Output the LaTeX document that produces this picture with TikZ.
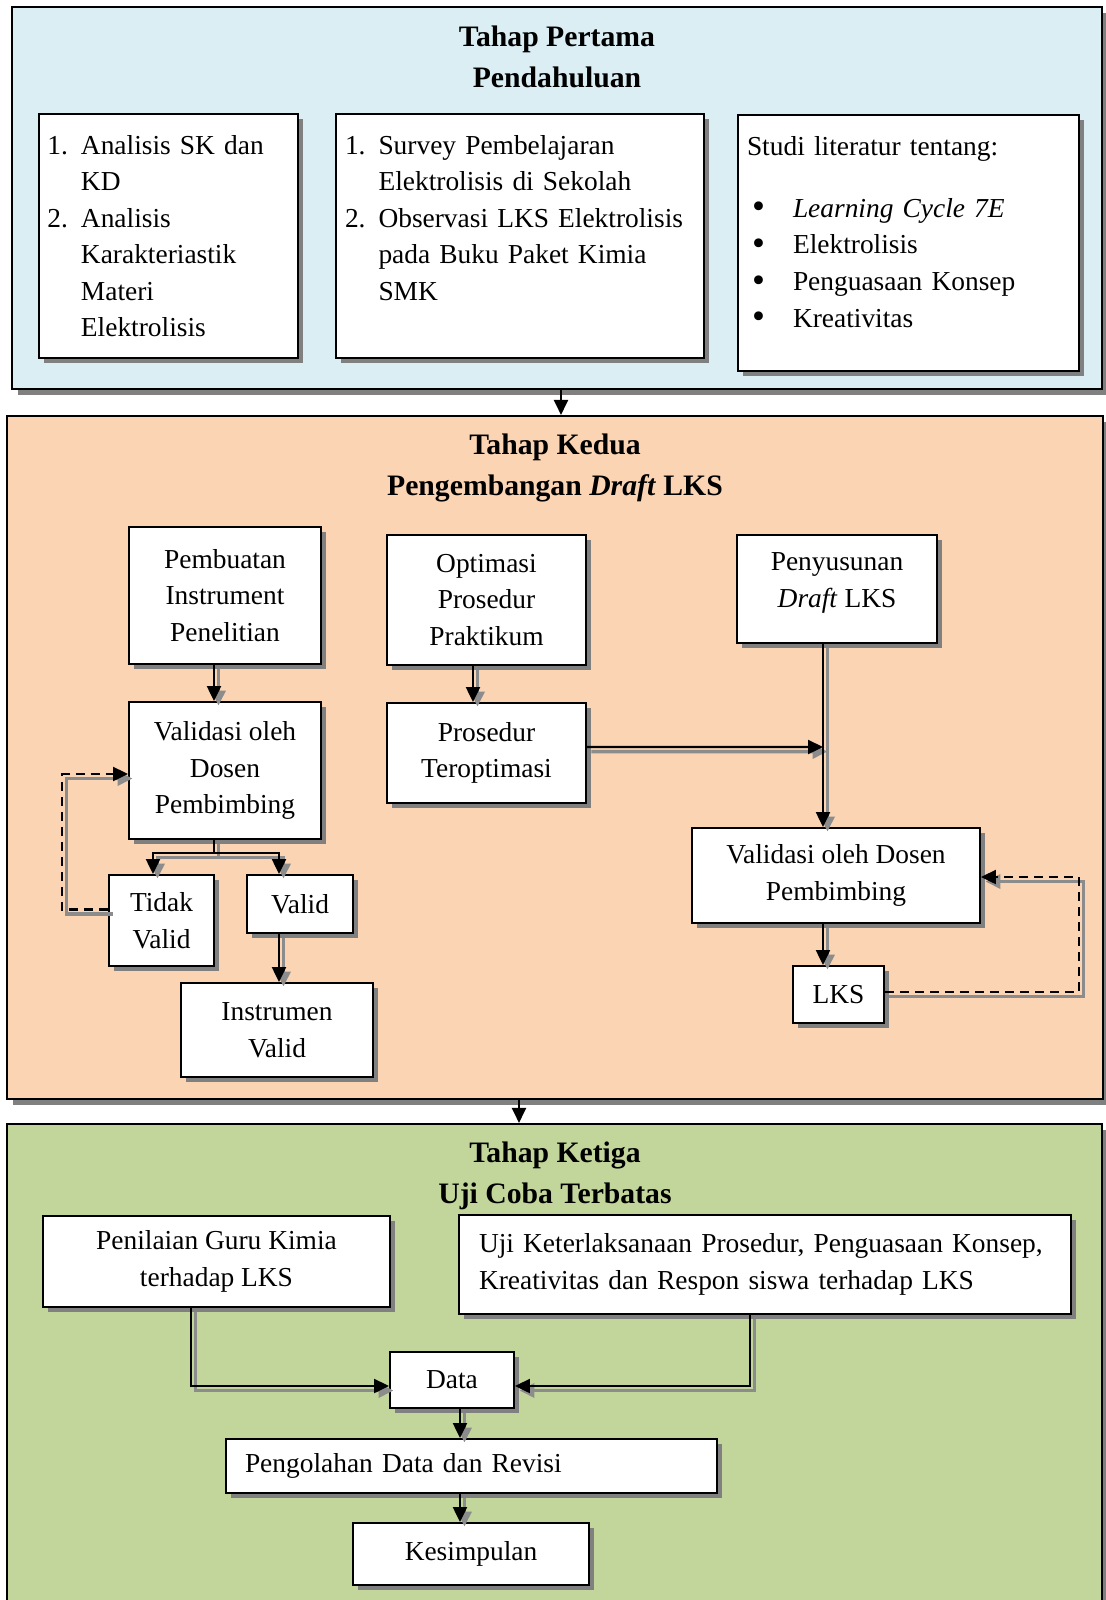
\documentclass[tikz,border=0pt]{standalone}
\usepackage{fontspec}
\setmainfont{Liberation Serif}
\usetikzlibrary{arrows.meta, positioning, calc, shadows}

\definecolor{stageblue}{HTML}{DAEEF3}
\definecolor{stageorange}{HTML}{FBD4B4}
\definecolor{stagegreen}{HTML}{C2D69B}

\newcommand{\lsnum}[1]{\makebox[0.67cm][l]{#1}}
\newcommand{\lsbul}{\hspace*{0.1cm}\makebox[0.82cm][l]{\fontsize{21pt}{20pt}\selectfont\raisebox{-0.04em}{\textbullet}}}

\begin{document}
\begin{tikzpicture}[
    font=\fontsize{15.6pt}{20.8pt}\selectfont,
    >={Triangle[length=0.3cm, width=0.28cm]},
    stage/.style={
        draw=black, line width=1.2pt, inner sep=0pt,
        drop shadow={shadow xshift=0.12cm, shadow yshift=-0.12cm, fill=black!50, opacity=1}
    },
    stagetitle/.style={
        align=center, font=\fontsize{16.9pt}{23.2pt}\selectfont\bfseries
    },
    procbox/.style={
        draw=black, fill=white, line width=1.1pt, align=center, inner sep=0pt,
        drop shadow={shadow xshift=0.1cm, shadow yshift=-0.1cm, fill=black!50, opacity=1}
    },
    listbox/.style={
        procbox, align=left
    },
    flow/.style={
        ->, line width=1.3pt,
        preaction={draw=black!45, line width=2pt, transform canvas={xshift=0.09cm, yshift=-0.09cm}}
    },
    loopback/.style={
        flow, dash pattern=on 0.18cm off 0.12cm
    },
    link/.style={
        ->, line width=1.2pt
    }
]
    \useasboundingbox (0,0) rectangle (22.12,-32);

    % Stage 1: Pendahuluan
    \node[stage, fill=stageblue, minimum width=21.8cm, minimum height=7.64cm] (s1) at (11.14,-3.96) {};
    \node[stagetitle] (t1) at (11.14,-1.14) {Tahap Pertama\\Pendahuluan};

    \node[listbox, text width=4.84cm, inner xsep=0.17cm, minimum height=4.88cm] (sk) at (3.37,-4.72)
        {\lsnum{1.}Analisis SK dan\\\lsnum{}KD\\\lsnum{2.}Analisis\\\lsnum{}Karakteriastik\\\lsnum{}Materi\\\lsnum{}Elektrolisis};
    \node[listbox, text width=7.0cm, inner xsep=0.18cm, minimum height=4.88cm] (survey) at (10.40,-4.72)
        {\lsnum{1.}Survey Pembelajaran\\\lsnum{}Elektrolisis di Sekolah\\\lsnum{2.}Observasi LKS Elektrolisis\\\lsnum{}pada Buku Paket Kimia\\\lsnum{}SMK\\\mbox{}};
    \node[listbox, text width=6.46cm, inner xsep=0.18cm, minimum height=5.12cm] (studi) at (18.17,-4.86)
        {Studi literatur tentang:\\[0.5cm]\lsbul\textit{Learning Cycle 7E}\\\lsbul Elektrolisis\\\lsbul Penguasaan Konsep\\\lsbul Kreativitas\\[-0.29cm]\mbox{}};

    % Stage 2: Pengembangan Draft LKS
    \node[stage, fill=stageorange, minimum width=21.92cm, minimum height=13.66cm] (s2) at (11.1,-15.15) {};
    \node[stagetitle] (t2) at (11.1,-9.36) {Tahap Kedua\\Pengembangan \textit{Draft} LKS};

    \node[procbox, minimum width=3.84cm, minimum height=2.74cm] (instr) at (4.50,-11.91) {Pembuatan\\Instrument\\Penelitian};
    \node[procbox, minimum width=3.98cm, minimum height=2.6cm] (optim) at (9.73,-12.0) {Optimasi\\Prosedur\\Praktikum};
    \node[procbox, minimum width=4.0cm, minimum height=2.16cm] (draft) at (16.74,-11.78) {Penyusunan\\\textit{Draft} LKS\\[-0.37cm]\mbox{}};

    \node[procbox, minimum width=3.84cm, minimum height=2.74cm] (valinst) at (4.50,-15.41) {Validasi oleh\\Dosen\\Pembimbing};
    \node[procbox, minimum width=3.98cm, minimum height=2.0cm] (optdone) at (9.73,-15.06) {Prosedur\\Teroptimasi};
    \node[procbox, minimum width=2.1cm, minimum height=1.82cm] (notvalid) at (3.23,-18.41) {Tidak\\Valid};
    \node[procbox, minimum width=2.12cm, minimum height=1.16cm] (valid) at (6.0,-18.08) {Valid};
    \node[procbox, minimum width=3.84cm, minimum height=1.88cm] (instok) at (5.54,-20.6) {Instrumen\\Valid};

    \node[procbox, minimum width=5.76cm, minimum height=1.9cm] (valdraft) at (16.72,-17.51) {Validasi oleh Dosen\\Pembimbing};
    \node[procbox, minimum width=1.82cm, minimum height=1.14cm] (lks) at (16.77,-19.89) {LKS};
    \coordinate (join) at (16.46,-14.94);

    % Stage 3: Uji Coba Terbatas
    \node[stage, fill=stagegreen, minimum width=21.9cm, minimum height=10.52cm] (s3) at (11.09,-27.74) {};
    \node[stagetitle] (t3) at (11.1,-23.52) {Tahap Ketiga\\Uji Coba Terbatas};

    \node[procbox, minimum width=6.94cm, minimum height=1.82cm] (guru) at (4.33,-25.23) {Penilaian Guru Kimia\\terhadap LKS};
    \node[listbox, text width=11.44cm, inner xsep=0.4cm, minimum height=1.98cm] (siswa) at (15.3,-25.29)
        {Uji Keterlaksanaan Prosedur, Penguasaan Konsep,\\Kreativitas dan Respon siswa terhadap LKS};
    \node[procbox, minimum width=2.48cm, minimum height=1.12cm] (data) at (9.04,-27.6) {Data};
    \node[listbox, text width=9.06cm, inner xsep=0.38cm, minimum height=1.08cm] (olah) at (9.43,-29.32) {Pengolahan Data dan Revisi};
    \node[procbox, minimum width=4.72cm, minimum height=1.24cm] (simpul) at (9.42,-31.08) {Kesimpulan};

    % Links between stages
    \draw[link] ([xshift=0.08cm]s1.south) -- ([xshift=0.08cm]s1.south |- s2.north);
    \draw[link] ([xshift=-0.72cm]s2.south) -- ([xshift=-0.72cm]s2.south |- s3.north);

    % Stage 2 connections
    \draw[flow] ([xshift=-0.22cm]instr.south) -- ([xshift=-0.22cm]valinst.north);
    \draw[flow] ([xshift=-0.22cm]valinst.south) -- ++(0,-0.26) -| ([xshift=-0.17cm]notvalid.north);
    \draw[flow] ([xshift=-0.22cm]valinst.south) -- ++(0,-0.26) -| ([xshift=-0.42cm]valid.north);
    \draw[flow] ([xshift=-0.42cm]valid.south) -- ([xshift=-0.42cm]valid.south |- instok.north);
    \draw[loopback] ([yshift=0.22cm]notvalid.west) -- ++(-0.92,0) |- ([yshift=-0.07cm]valinst.west);

    \draw[flow] ([xshift=-0.27cm]optim.south) -- ([xshift=-0.27cm]optim.south |- optdone.north);
    \draw[flow] ([yshift=0.12cm]optdone.east) -- (join);
    \draw[flow] (join |- draft.south) -- (join |- valdraft.north);
    \draw[flow] (join |- valdraft.south) -- (join |- lks.north);
    \draw[loopback] ([yshift=0.05cm]lks.east) -- ++(3.88,0) |- ([yshift=-0.03cm]valdraft.east);

    % Stage 3 connections
    \draw[flow] ([xshift=-0.51cm]guru.south) |- ([yshift=-0.12cm]data.west);
    \draw[flow] ([xshift=-0.3cm]siswa.south) |- ([yshift=-0.12cm]data.east);
    \draw[flow] ([xshift=0.16cm]data.south) -- ([xshift=0.16cm]data.south |- olah.north);
    \draw[flow] ([xshift=-0.23cm]olah.south) -- ([xshift=-0.23cm]olah.south |- simpul.north);

\end{tikzpicture}
\end{document}
